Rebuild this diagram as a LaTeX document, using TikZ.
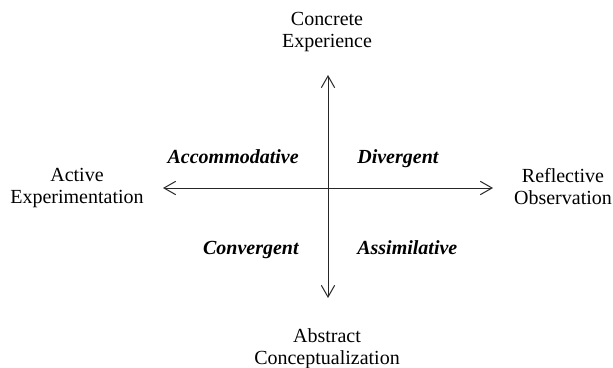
\documentclass[tikz,border=0pt]{standalone}
\usepackage{fontspec}
\setmainfont{Liberation Serif}
\usetikzlibrary{arrows.meta}
\tikzset{
  pole/.style={align=center,inner sep=0pt,font=\fontsize{12}{13.2}\selectfont},
  quadrant/.style={inner sep=0pt,font=\fontsize{12}{13.2}\selectfont\bfseries\itshape}
}
\begin{document}
\begin{tikzpicture}[x=0.6pt,y=-0.6pt,>={Straight Barb[length=7pt,width=8pt]}]
  \useasboundingbox (0,0) rectangle (613,367);
  % ends of the two axes
  \coordinate (up)    at (328, 75);
  \coordinate (down)  at (328,298);
  \coordinate (west)  at (163,188);
  \coordinate (east)  at (493,188);
  \draw[black!85,line width=0.6pt,<->] (up) -- (down);
  \draw[black!85,line width=0.6pt,<->] (west) -- (east);
  % poles
  \node[pole,anchor=north] (ce) at (327, 11.5) {Concrete\\Experience};
  \node[pole,anchor=north] (ac) at (327,328.3) {Abstract\\Conceptualization};
  \node[pole,anchor=north] (ae) at ( 77,168.3) {Active\\Experimentation};
  \node[pole,anchor=north] (ro) at (563,168.3) {Reflective\\Observation};
  % learning styles
  \node[quadrant,anchor=base east] (acc) at (299,163) {Accommodative};
  \node[quadrant,anchor=base west] (div) at (357,163) {Divergent};
  \node[quadrant,anchor=base east] (con) at (299,254) {Convergent};
  \node[quadrant,anchor=base west] (ass) at (357,254) {Assimilative};
\end{tikzpicture}
\end{document}
